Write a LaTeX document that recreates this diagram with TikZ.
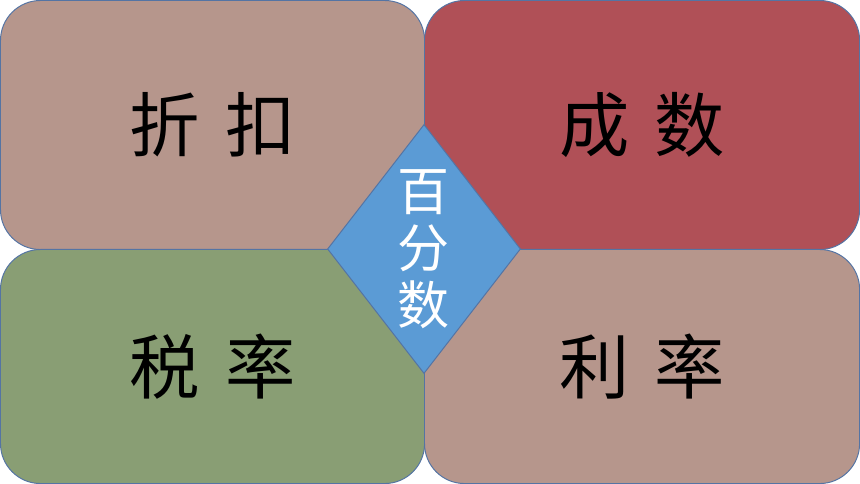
\documentclass[tikz,border=0pt]{standalone}
\usepackage{fontspec}
\usepackage{tikz}
\usetikzlibrary{shapes.geometric}

\newfontfamily\cjk[WordSpace=1.6]{Noto Sans CJK SC}

\definecolor{rose}{RGB}{182,150,140}
\definecolor{brick}{RGB}{176,80,87}
\definecolor{sage}{RGB}{137,158,116}
\definecolor{sky}{RGB}{91,155,213}
\definecolor{edge}{RGB}{84,116,164}

\tikzset{
  card/.style={draw=edge, line width=0.7pt, rectangle, rounded corners=1cm,
    anchor=north west, inner sep=0pt, font=\cjk\fontsize{50}{60}\selectfont},
}

\begin{document}
\begin{tikzpicture}[x=0.025cm, y=-0.025cm]
      \useasboundingbox (0, 0) rectangle (860, 484);

      \node[card, fill=rose, minimum width=10.6cm, minimum height=6.225cm] (zhekou) at (0, 0) {折 扣};
      \node[card, fill=brick, minimum width=10.875cm, minimum height=6.225cm] (chengshu) at (424, 0) {成 数};
      \node[card, fill=sage, minimum width=10.6cm, minimum height=5.85cm] (shuilv) at (0, 249) {税 率};
      \node[card, fill=rose, minimum width=10.875cm, minimum height=5.85cm] (lilv) at (424, 249) {利 率};

      \node[diamond, draw=edge, line width=0.7pt, fill=sky, inner sep=0pt,
        minimum width=4.825cm, minimum height=6.225cm] (centre) at (424, 249) {};
      \node[text=white, align=center, font=\cjk\fontsize{37}{40.5}\selectfont] (bfs) at (centre.center) {百\\分\\数};
    \end{tikzpicture}
\end{document}
